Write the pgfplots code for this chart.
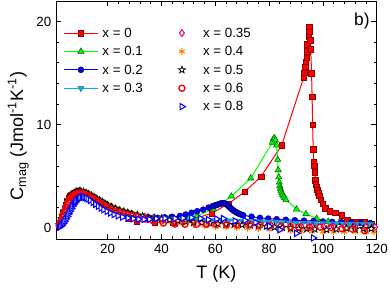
\documentclass[border=0pt]{standalone}
\usepackage{fontspec}
\setmainfont{Liberation Sans}
\usepackage{pgfplots}
\pgfplotsset{compat=1.18}
\usetikzlibrary{plotmarks}
\definecolor{myorange}{RGB}{255,128,0}
\pgfdeclareplotmark{ostar}{%
 \pgfpathmoveto{\pgfpointpolar{90}{\pgfplotmarksize}}%
 \pgfpathlineto{\pgfpointpolar{126}{0.42\pgfplotmarksize}}%
 \pgfpathlineto{\pgfpointpolar{162}{\pgfplotmarksize}}%
 \pgfpathlineto{\pgfpointpolar{198}{0.42\pgfplotmarksize}}%
 \pgfpathlineto{\pgfpointpolar{234}{\pgfplotmarksize}}%
 \pgfpathlineto{\pgfpointpolar{270}{0.42\pgfplotmarksize}}%
 \pgfpathlineto{\pgfpointpolar{306}{\pgfplotmarksize}}%
 \pgfpathlineto{\pgfpointpolar{342}{0.42\pgfplotmarksize}}%
 \pgfpathlineto{\pgfpointpolar{18}{\pgfplotmarksize}}%
 \pgfpathlineto{\pgfpointpolar{54}{0.42\pgfplotmarksize}}%
 \pgfpathclose
 \pgfusepathqfillstroke}
\pgfplotsset{
 sA/.style={color=red, line width=0.75pt, mark=square*, mark size=2.1pt, mark options={fill=red, draw=red!55!black, line width=0.4pt}},
 sB/.style={color=green, line width=0.75pt, mark=triangle*, mark size=2.7pt, mark options={fill=green, draw=green!40!black, line width=0.4pt}},
 sC/.style={color=blue, line width=0.75pt, mark=*, mark size=2.2pt, mark options={fill=blue, draw=blue!45!black, line width=0.4pt}},
 sD/.style={color=cyan, line width=0.75pt, mark=triangle*, mark size=2.7pt, mark options={rotate=180, fill=cyan, draw=cyan!55!black, line width=0.4pt}},
 sE/.style={only marks, color=magenta, mark=diamond*, mark size=2.5pt, mark options={fill=white, draw=magenta, line width=0.8pt}},
 sF/.style={only marks, color=myorange, mark=asterisk, mark size=2.5pt, mark options={line width=0.8pt}},
 sG/.style={only marks, color=black, mark=ostar, mark size=2.7pt, mark options={fill=white, draw=black, line width=0.6pt}},
 sH/.style={only marks, color=red, mark=o, mark size=2.3pt, mark options={fill=white, draw=red, line width=1pt}},
 sI/.style={only marks, color=blue, mark=triangle*, mark size=2.7pt, mark options={rotate=-90, fill=white, draw=blue, line width=0.8pt}},
}
\begin{document}
\begin{tikzpicture}
\useasboundingbox (-42pt,-36.75pt) rectangle (250.5pt,179.25pt);
\begin{axis}[
 width=240.5pt, height=178.5pt, scale only axis,
 xmin=0.8, xmax=120, ymin=-1.1, ymax=22,
 xtick={20,40,60,80,100,120}, ytick={0,10,20},
 minor x tick num=4, minor y tick num=4,
 tick align=inside, major tick length=4pt, minor tick length=2pt,
 tick style={line width=0.5pt, black},
 axis line style={line width=0.6pt},
 tick label style={font=\fontsize{10}{12}\selectfont},
 /pgf/number format/assume math mode=true,
 xlabel={T (K)},
 ylabel={C\textsubscript{mag} (Jmol\textsuperscript{-1}K\textsuperscript{-1})},
 label style={font=\fontsize{13.5}{16}\selectfont},
 xlabel style={at={(axis description cs:0.5,-0.147)}, anchor=center},
 ylabel style={at={(axis description cs:-0.118,0.433)}, anchor=center},
 legend columns=2,
 legend cell align=left,
 legend image code/.code={\path[draw=none,fill=none] (0cm,0cm) (0.9cm,0cm); \draw[mark repeat=2,mark phase=2,#1] plot coordinates {(0cm,0cm) (0.45cm,0cm) (0.9cm,0cm)};},
 legend style={at={(axis description cs:0.022,0.893)}, anchor=north west, draw=none, fill=none,
   font=\fontsize{10}{12}\selectfont, inner sep=0pt, row sep=4.3pt,
   nodes={inner sep=0.5pt, text height=7.5pt, text depth=1pt},
   /tikz/every odd column/.append style={column sep=2.5pt},
   /tikz/every even column/.append style={column sep=16pt}},
]
% x = 0
\addplot[sA, forget plot] coordinates {
(2,0.3)(2.5,0.65)(3,1.0)(3.5,1.4)(4,1.8)(4.5,2.2)(5,2.55)(5.5,2.85)(6,3.05)(6.5,3.2)(7,3.3)(7.5,3.36)(8,3.4)(8.5,3.4)(9,3.38)(10,3.33)(11,3.25)(12,3.15)(13,3.02)(14,2.88)(15,2.74)(16,2.6)(17,2.45)(18,2.3)(19,2.15)(20,2.0)(22,1.72)(24,1.45)(26,1.18)(28,0.9)(30.8,0.62)(37.5,0.5)(44.4,0.48)(51.5,0.8)(58.7,1.4)(64.8,2.3)(71,3.5)(77,4.95)(84.7,8.0)(92.9,14.6)(93.1,15.05)(93.5,15.6)(93.7,16.1)(94.0,16.5)(94.2,17.1)(94.3,17.8)(94.7,18.6)(94.9,19.0)(95.0,19.5)(95.3,18.2)(95.5,17.3)(95.8,15.0)(96.0,12.7)(96.2,10.0)(96.4,7.6)(96.6,6.4)(96.8,6.0)(97.0,5.4)(97.2,4.6)(97.4,4.24)(97.7,3.98)(97.9,3.66)(98.3,3.4)(98.6,3.1)(99.2,2.7)(99.9,2.3)(101,1.9)(102.5,1.6)(104.5,1.45)(107,1.2)(109,0.75)(111,0.55)(113,0.58)(115.5,0.55)(118,0.35)
};
% x = 0.1
\addplot[sB, forget plot] coordinates {
(2,0.25)(2.5,0.55)(3,0.85)(3.5,1.2)(4,1.6)(4.5,1.98)(5,2.3)(5.5,2.6)(6,2.85)(6.5,3.05)(7,3.2)(7.5,3.32)(8,3.4)(8.5,3.45)(9,3.48)(9.5,3.5)(10,3.5)(11,3.45)(12,3.35)(13,3.22)(14,3.08)(15,2.92)(16,2.76)(17,2.6)(18,2.45)(19,2.3)(20,2.16)(21.5,1.97)(23,1.8)(24.5,1.65)(26,1.53)(27.5,1.42)(29,1.31)(31,1.2)(34,1.07)(37,0.98)(40,0.93)(43,0.92)(46.5,0.95)(50,1.02)(53.1,1.14)(59.3,1.81)(66,3.05)(73.2,4.8)(81.2,8.25)(81.6,8.6)(82.0,8.7)(82.4,8.5)(82.8,8.0)(83.2,6.6)(83.4,5.6)(83.6,4.9)(83.8,4.4)(84.0,4.05)(84.2,3.8)(84.4,3.6)(84.7,3.4)(85.0,3.22)(85.4,3.05)(85.8,2.9)(86.3,2.7)(90.2,1.79)(93.7,1.33)(97.7,0.88)(102,0.6)(106,0.48)(110,0.43)(114,0.4)(118,0.38)
};
% x = 0.2
\addplot[sC, forget plot] coordinates {
(2,0.25)(2.5,0.55)(3,0.85)(3.5,1.2)(4,1.6)(4.5,1.98)(5,2.3)(5.5,2.6)(6,2.85)(6.5,3.05)(7,3.2)(7.5,3.32)(8,3.4)(8.5,3.45)(9,3.48)(9.5,3.5)(10,3.5)(11,3.45)(12,3.35)(13,3.22)(14,3.08)(15,2.92)(16,2.76)(17,2.6)(18,2.45)(19,2.3)(20,2.16)(21.5,1.97)(23,1.8)(24.5,1.65)(26,1.53)(27.5,1.42)(29,1.31)(31,1.2)(33.5,1.07)(35.7,0.97)(38.5,0.96)(41.3,1.0)(44,1.06)(46.9,1.14)(49,1.28)(51.2,1.45)(53.3,1.6)(55.5,1.75)(57.5,1.95)(59.0,2.08)(59.5,2.12)(60.0,2.16)(60.5,2.2)(61.0,2.25)(61.5,2.3)(62.0,2.34)(62.5,2.37)(63.0,2.38)(63.5,2.36)(64.0,2.3)(64.4,2.22)(64.8,2.12)(65.2,2.02)(65.6,1.92)(66.0,1.82)(66.5,1.72)(67.0,1.62)(67.5,1.54)(68.0,1.46)(68.5,1.4)(69.0,1.34)(69.6,1.27)(70.4,1.2)(73.5,1.07)(76.6,0.95)(79.7,0.88)(82.8,0.82)(86.2,0.77)(89.6,0.72)(93,0.68)(96.5,0.64)(100,0.6)(103.5,0.56)(107,0.53)(110.5,0.5)(114,0.47)(117.5,0.44)
};
% x = 0.3
\addplot[sD, forget plot] coordinates {
(2,0.24)(2.5,0.53)(3,0.83)(3.5,1.17)(4,1.56)(4.5,1.94)(5,2.25)(5.5,2.55)(6,2.8)(6.5,3.0)(7,3.14)(7.5,3.26)(8,3.33)(8.5,3.38)(9,3.41)(9.5,3.43)(10,3.43)(11,3.38)(12,3.28)(13,3.16)(14,3.02)(15,2.86)(16,2.7)(17,2.55)(18,2.4)(19,2.25)(20,2.12)(21.5,1.93)(23,1.77)(24.5,1.62)(26,1.5)(27.5,1.39)(29,1.29)(31,1.2)(34,1.07)(37,0.97)(40,0.9)(42.5,0.86)(45,0.82)(47.5,0.79)(50,0.76)(52.5,0.74)(55,0.72)(57.5,0.71)(60,0.7)(62.5,0.69)(65,0.68)(67.5,0.66)(70,0.65)(72.5,0.62)(75,0.6)(77.5,0.58)(80,0.55)(82.5,0.52)(85,0.5)(87.5,0.47)(90,0.45)(92.5,0.44)(95,0.42)(97.5,0.41)(100,0.4)(102.5,0.39)(105,0.38)(107.5,0.37)(110,0.36)(112.5,0.35)(115,0.35)(117.5,0.34)
};
% x = 0.35
\addplot[sE, forget plot] coordinates {
(2,0.24)(2.5,0.53)(3,0.82)(3.5,1.16)(4,1.55)(4.5,1.92)(5,2.23)(5.5,2.52)(6,2.76)(6.5,2.96)(7,3.1)(7.5,3.22)(8,3.3)(8.5,3.35)(9,3.38)(9.5,3.4)(10,3.4)(11,3.35)(12,3.25)(13,3.12)(14,2.99)(15,2.83)(16,2.68)(17,2.52)(18,2.38)(19,2.23)(20,2.1)(21.5,1.91)(23,1.75)(24.5,1.6)(26,1.48)(27.5,1.38)(29,1.27)(31,1.15)(34,0.98)(37,0.85)(40.5,0.7)(44,0.58)(48,0.48)(52,0.42)(56,0.38)(60,0.34)(64,0.3)(68,0.27)(72,0.24)(76,0.2)(80,0.18)(84,0.15)(88,0.13)(92,0.12)(96,0.12)(100.2,0.1)(104,0.1)(108,0.08)(112,0.07)(116,0.06)(119.4,0.05)
};
% x = 0.4
\addplot[sF, forget plot] coordinates {
(2,0.28)(2.5,0.58)(3,0.9)(3.5,1.25)(4,1.65)(4.5,2.03)(5,2.36)(5.5,2.66)(6,2.92)(6.5,3.12)(7,3.28)(7.5,3.4)(8,3.48)(8.5,3.53)(9,3.56)(9.5,3.58)(10,3.58)(11,3.53)(12,3.43)(13,3.3)(14,3.15)(15,3.0)(16,2.84)(17,2.68)(18,2.52)(19,2.37)(20,2.23)(21.5,2.04)(23,1.87)(24.5,1.72)(26,1.6)(27.5,1.48)(29,1.37)(31,1.25)(34,1.05)(37,0.9)(40,0.78)(44,0.6)(48,0.45)(52,0.3)(56,0.2)(60,0.1)(64,0.05)(68,0.0)(72,-0.05)(76,-0.1)(80,-0.15)(84,-0.2)(88,-0.3)(92,-0.35)(96,-0.38)(100,-0.4)(104,-0.4)(108,-0.4)(112,-0.4)(116,-0.4)(119,-0.4)
};
% x = 0.5
\addplot[sG, forget plot] coordinates {
(2,0.26)(2.5,0.56)(3,0.87)(3.5,1.22)(4,1.62)(4.5,2.0)(5,2.32)(5.5,2.62)(6,2.88)(6.5,3.08)(7,3.23)(7.5,3.35)(8,3.43)(8.5,3.48)(9,3.51)(9.5,3.53)(10,3.53)(11,3.48)(12,3.38)(13,3.25)(14,3.11)(15,2.95)(16,2.79)(17,2.63)(18,2.48)(19,2.33)(20,2.19)(21.5,2.0)(23,1.83)(24.5,1.68)(26,1.56)(27.5,1.45)(29,1.34)(31,1.2)(33,1.1)(35,1.0)(37.5,0.92)(40,0.85)(43,0.76)(46,0.68)(49,0.6)(52,0.53)(55,0.48)(58,0.43)(61,0.38)(64,0.34)(67,0.3)(70,0.27)(73,0.24)(76,0.18)(79,0.12)(82,0.05)(85,0.0)(88,-0.06)(91,-0.1)(94,-0.12)(97,-0.15)(101.4,-0.2)(105,-0.15)(108.8,-0.06)(112,-0.15)(115,-0.1)(118,-0.1)
};
% x = 0.6
\addplot[sH, forget plot] coordinates {
(2,0.2)(2.5,0.48)(3,0.78)(3.5,1.12)(4,1.5)(4.5,1.86)(5,2.18)(5.5,2.47)(6,2.7)(6.5,2.9)(7,3.04)(7.5,3.15)(8,3.23)(8.5,3.28)(9,3.31)(9.5,3.32)(10,3.32)(11,3.27)(12,3.17)(13,3.05)(14,2.9)(15,2.74)(16,2.57)(17,2.4)(18,2.24)(19,2.08)(20,1.93)(21.5,1.74)(23,1.57)(24.5,1.43)(26,1.32)(27.5,1.21)(29,1.13)(31,1.05)(34,0.85)(37,0.65)(40.7,0.45)(45,0.35)(48.7,0.33)(53,0.32)(56.8,0.32)(60.5,0.3)(64.2,0.3)(68,0.28)(72.9,0.28)(76.6,0.25)(80.5,0.2)(84.5,0.12)(88,0.1)(91,0.05)(95,0.05)(99,0.05)(103,0.0)(107,-0.1)(111,-0.15)(115.5,-0.3)
};
% x = 0.8
\addplot[sI, forget plot] coordinates {
(2,0.05)(2.5,0.12)(3,0.25)(3.5,0.42)(4,0.62)(4.5,0.85)(5,1.1)(5.5,1.35)(6,1.6)(6.5,1.85)(7,2.1)(7.5,2.3)(8,2.48)(8.5,2.63)(9,2.76)(9.5,2.86)(10,2.93)(10.5,2.97)(11,2.97)(11.5,2.94)(12,2.88)(12.7,2.78)(13.5,2.64)(14.5,2.45)(15.5,2.27)(16.5,2.08)(17.5,1.9)(18.5,1.74)(19.7,1.58)(21,1.42)(22.3,1.27)(23.8,1.14)(25.5,1.03)(27.5,0.94)(29.5,0.87)(31.5,0.82)(33.5,0.8)(35.5,0.82)(38,0.88)(41.3,0.92)(45,0.9)(48,0.93)(51.2,0.98)(54.5,0.9)(57.4,0.78)(60.5,0.85)(63,0.88)(67.3,0.65)(71,0.7)(75,0.5)(80,0.15)(84,-0.2)(90.2,-0.55)(96.4,-1.0)
};
% legend
\addlegendimage{sA}\addlegendentry{x = 0}
\addlegendimage{sE}\addlegendentry{x = 0.35}
\addlegendimage{sB}\addlegendentry{x = 0.1}
\addlegendimage{sF}\addlegendentry{x = 0.4}
\addlegendimage{sC}\addlegendentry{x = 0.2}
\addlegendimage{sG}\addlegendentry{x = 0.5}
\addlegendimage{sD}\addlegendentry{x = 0.3}
\addlegendimage{sH}\addlegendentry{x = 0.6}
\addlegendimage{empty legend}\addlegendentry{}
\addlegendimage{sI}\addlegendentry{x = 0.8}
\node[font=\fontsize{13}{15}\selectfont] at (rel axis cs:0.954,0.916) {b)};
\end{axis}
\end{tikzpicture}
\end{document}
